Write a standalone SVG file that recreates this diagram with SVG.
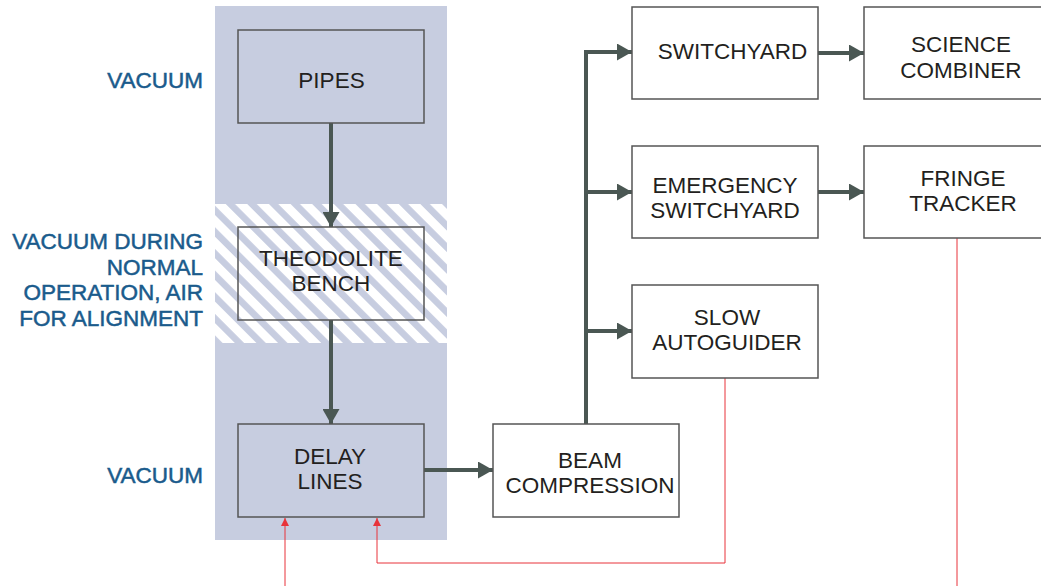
<svg xmlns="http://www.w3.org/2000/svg" width="1041" height="586" viewBox="0 0 1041 586">
<defs>
<pattern id="hatch" patternUnits="userSpaceOnUse" width="15.3" height="15.3" patternTransform="rotate(-45)">
<rect x="0" y="0" width="15.3" height="15.3" fill="#ffffff"/>
<rect x="0" y="0" width="6.6" height="15.3" fill="#c7cde0"/>
</pattern>
<marker id="ah" markerUnits="userSpaceOnUse" markerWidth="16" markerHeight="17" refX="15" refY="8.5" orient="auto">
<path d="M0,0 L15,8.5 L0,17 Z" fill="#4a5753"/>
</marker>
<marker id="rh" markerUnits="userSpaceOnUse" markerWidth="8" markerHeight="8" refX="8" refY="4" orient="auto">
<path d="M0,0 L8,4 L0,8 Z" fill="#e8333a"/>
</marker>
</defs>
<style>
.box{stroke:#555555;stroke-width:1.5}
.w{fill:#ffffff}
.t{fill:none}
.txt{font-family:"Liberation Sans",Arial,sans-serif;font-size:22.5px;fill:#231f20;text-anchor:middle}
.lbl{font-family:"Liberation Sans",Arial,sans-serif;font-size:22.5px;fill:#1a5b8c;stroke:#1a5b8c;stroke-width:0.5;text-anchor:end}
.arr{fill:none;stroke:#4a5753;stroke-width:4}
.red{fill:none;stroke:#e8333a;stroke-width:1}
</style>
<g id="background">
<rect x="215" y="6" width="232" height="534" fill="#c7cde0"/>
<rect x="215" y="204" width="232" height="139" fill="url(#hatch)"/>
</g>
<g id="labels">
<text class="lbl" x="203" y="88">VACUUM</text>
<text class="lbl" x="203" y="249">VACUUM DURING</text>
<text class="lbl" x="203" y="275">NORMAL</text>
<text class="lbl" x="203" y="300">OPERATION, AIR</text>
<text class="lbl" x="203" y="326">FOR ALIGNMENT</text>
<text class="lbl" x="203" y="483">VACUUM</text>
</g>
<g id="connectors">
<path class="arr" d="M331,123 V227" marker-end="url(#ah)"/>
<path class="arr" d="M331,320 V424" marker-end="url(#ah)"/>
<path class="arr" d="M424,470 H493" marker-end="url(#ah)"/>
<path class="arr" d="M586,424 V52 H632" marker-end="url(#ah)"/>
<path class="arr" d="M586,192 H632" marker-end="url(#ah)"/>
<path class="arr" d="M586,331 H632" marker-end="url(#ah)"/>
<path class="arr" d="M818,53 H864" marker-end="url(#ah)"/>
<path class="arr" d="M818,192 H864" marker-end="url(#ah)"/>
<path class="red" d="M725,378 V563 H377 V518" marker-end="url(#rh)"/>
<path class="red" d="M285,586 V518" marker-end="url(#rh)"/>
<path class="red" d="M957,238 V586"/>
</g>
<g id="pipes">
<rect class="box t" x="238" y="30" width="186" height="93"/>
<text class="txt" x="331.5" y="88">PIPES</text>
</g>
<g id="theodolite-bench">
<rect class="box t" x="238" y="227" width="186" height="93"/>
<text class="txt" x="331" y="266">THEODOLITE</text>
<text class="txt" x="331" y="291">BENCH</text>
</g>
<g id="delay-lines">
<rect class="box t" x="238" y="424" width="186" height="93"/>
<text class="txt" x="330" y="464">DELAY</text>
<text class="txt" x="330" y="489">LINES</text>
</g>
<g id="beam-compression">
<rect class="box w" x="493" y="424" width="186" height="93"/>
<text class="txt" x="590" y="468">BEAM</text>
<text class="txt" x="590" y="493">COMPRESSION</text>
</g>
<g id="switchyard">
<rect class="box w" x="632" y="7" width="186" height="92"/>
<text class="txt" x="732.5" y="59">SWITCHYARD</text>
</g>
<g id="science-combiner">
<rect class="box w" x="864" y="7" width="190" height="92"/>
<text class="txt" x="961" y="52">SCIENCE</text>
<text class="txt" x="961" y="78">COMBINER</text>
</g>
<g id="emergency-switchyard">
<rect class="box w" x="632" y="146" width="186" height="92"/>
<text class="txt" x="725" y="193">EMERGENCY</text>
<text class="txt" x="725" y="218">SWITCHYARD</text>
</g>
<g id="fringe-tracker">
<rect class="box w" x="864" y="146" width="190" height="92"/>
<text class="txt" x="963" y="186">FRINGE</text>
<text class="txt" x="963" y="211">TRACKER</text>
</g>
<g id="slow-autoguider">
<rect class="box w" x="632" y="285" width="186" height="93"/>
<text class="txt" x="727" y="325">SLOW</text>
<text class="txt" x="727" y="350">AUTOGUIDER</text>
</g>
</svg>
